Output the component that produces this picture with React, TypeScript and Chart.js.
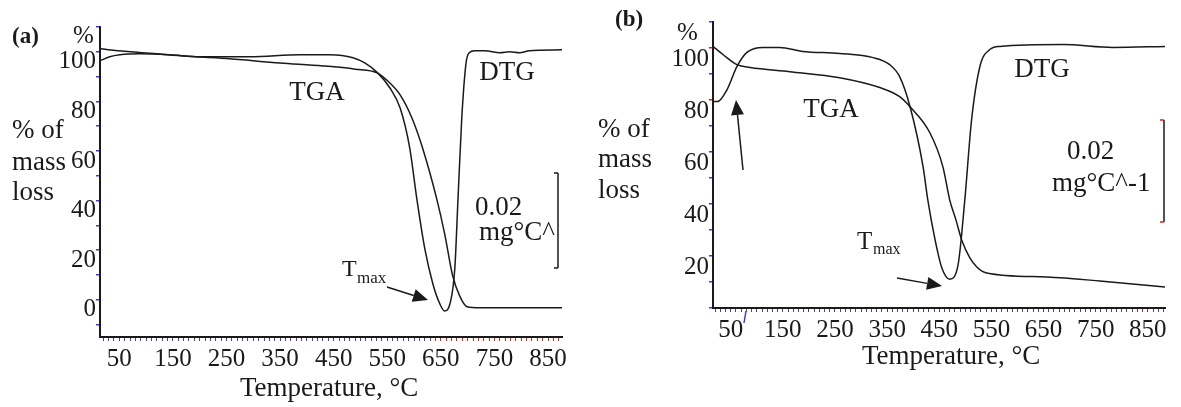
import { useEffect, useRef } from 'react';
import { Chart, registerables } from 'chart.js';

Chart.register(...registerables);

// ---------- data ----------
// Panel (a)
const tgaA_T = [14, 60, 107, 150, 250, 350, 430, 490, 531, 555, 574, 596, 616, 642, 657, 672, 685, 699, 723, 876];
const tgaA_V = [101.2, 100.2, 99.4, 98.6, 97.3, 95.5, 94.3, 93.0, 91.5, 87.4, 82.6, 73.3, 61.1, 40.9, 26.7, 9.7, 1.6, -2.8, -3.2, -3.2];
const dtgA_T = [14, 32, 51, 88, 144, 200, 294, 387, 443, 486, 508, 532, 555, 574, 592, 605, 620, 635, 648, 657, 667, 676, 682, 689, 697, 703, 713, 732, 760, 778, 797, 815, 876];
const dtgA_V = [96.4, 98, 98.8, 99.2, 98.8, 98, 98, 98.8, 98.8, 97.6, 95.5, 91.5, 85.4, 77.3, 61.1, 40.9, 20.6, 6.5, -1.6, -4.5, -1.6, 12.6, 40.9, 73.3, 95.5, 99.6, 100.4, 100.4, 99.6, 100, 99.6, 100.4, 100.8];

// Panel (b)
const tgaB_T = [16, 35, 62, 87, 163, 259, 336, 374, 394, 432, 457, 470, 482, 493, 509, 522, 541, 656, 758, 883];
const tgaB_V = [100.6, 97.5, 93.6, 92.5, 90.9, 88.6, 84.8, 81.3, 77.4, 67.4, 54.3, 41.6, 33.9, 26.2, 19.2, 15.8, 13.5, 11.9, 10.4, 8.1];
const dtgB_T = [16, 25, 43, 62, 81, 112, 144, 188, 259, 323, 355, 374, 394, 419, 428, 442, 455, 470, 486, 499, 512, 528, 547, 566, 687, 783, 883];
const dtgB_V = [79.4, 79.4, 84, 92.9, 98.3, 100.2, 100.2, 98.7, 97.9, 96.3, 93.6, 89, 77.4, 54.3, 41.6, 26.2, 15.4, 11.1, 16.5, 41.6, 72.4, 92.9, 99.4, 100.6, 101.3, 100.2, 100.6];

// tick labels
const xTickLabels = [50, 150, 250, 350, 450, 550, 650, 750, 850];
const yTickLabels = [0, 20, 40, 60, 80, 100];

const SERIF = "'Liberation Serif', 'Times New Roman', serif";

type Txt = { t: string; x: number; y: number; size: number; bold?: boolean; align?: CanvasTextAlign };
type Arrow = { x1: number; y1: number; x2: number; y2: number };

interface PanelSpec {
  left: number;
  width: number;
  areaLeft: number;
  areaRight: number;
  areaTop: number;
  areaBottom: number;
  xMin: number;
  xMax: number;
  yMin: number;
  yMax: number;
  yLabelOffset: number;
  tgaT: number[];
  tgaV: number[];
  dtgT: number[];
  dtgV: number[];
  xTickColor: (v: number) => string;
  yTickColor: (v: number) => string;
  texts: Txt[];
  arrows: Arrow[];
  bracket: { x: number; y1: number; y2: number; color: string };
  extraLines: { x1: number; y1: number; x2: number; y2: number; color: string }[];
}

const H = 407;

function zip(t: number[], v: number[]) {
  return t.map((x, i) => ({ x, y: v[i] }));
}

function drawArrow(ctx: CanvasRenderingContext2D, a: Arrow) {
  const ang = Math.atan2(a.y2 - a.y1, a.x2 - a.x1);
  const L = 15;
  const W = 6.5;
  const bx = a.x2 - L * Math.cos(ang);
  const by = a.y2 - L * Math.sin(ang);
  ctx.beginPath();
  ctx.moveTo(a.x1, a.y1);
  ctx.lineTo(bx, by);
  ctx.stroke();
  ctx.beginPath();
  ctx.moveTo(a.x2, a.y2);
  ctx.lineTo(bx + W * Math.sin(ang), by - W * Math.cos(ang));
  ctx.lineTo(bx - W * Math.sin(ang), by + W * Math.cos(ang));
  ctx.closePath();
  ctx.fill();
}

function Panel({ spec }: { spec: PanelSpec }) {
  const ref = useRef<HTMLCanvasElement>(null);
  useEffect(() => {
    if (!ref.current) return;
    const s = spec;
    const off = s.left;
    const xTicks: number[] = [];
    for (let v = Math.ceil(s.xMin / 10) * 10; v <= s.xMax; v += 10) xTicks.push(v);
    const yTicks: number[] = [];
    for (let v = Math.ceil(s.yMin / 10) * 10; v <= s.yMax + 0.01; v += 10) yTicks.push(v);

    const annot = {
      id: 'annot',
      afterDraw(chart: any) {
        const ctx: CanvasRenderingContext2D = chart.ctx;
        ctx.save();
        ctx.fillStyle = '#1a1a1a';
        ctx.strokeStyle = '#1a1a1a';
        ctx.textBaseline = 'middle';
        for (const t of s.texts) {
          ctx.font = `${t.bold ? 'bold ' : ''}${t.size}px ${SERIF}`;
          ctx.textAlign = t.align || 'left';
          ctx.fillText(t.t, t.x - off, t.y);
        }
        ctx.lineWidth = 1.5;
        for (const a of s.arrows) {
          drawArrow(ctx, { x1: a.x1 - off, y1: a.y1, x2: a.x2 - off, y2: a.y2 });
        }
        // bracket
        const b = s.bracket;
        ctx.lineWidth = 1.5;
        ctx.beginPath();
        ctx.moveTo(b.x - off, b.y1);
        ctx.lineTo(b.x - off, b.y2);
        ctx.stroke();
        ctx.strokeStyle = b.color;
        ctx.beginPath();
        ctx.moveTo(b.x - off - 4, b.y1);
        ctx.lineTo(b.x - off, b.y1);
        ctx.moveTo(b.x - off - 4, b.y2);
        ctx.lineTo(b.x - off, b.y2);
        ctx.stroke();
        for (const l of s.extraLines) {
          ctx.strokeStyle = l.color;
          ctx.beginPath();
          ctx.moveTo(l.x1 - off, l.y1);
          ctx.lineTo(l.x2 - off, l.y2);
          ctx.stroke();
        }
        ctx.restore();
      },
    };

    const chart = new Chart(ref.current, {
      type: 'line',
      data: {
        datasets: [
          {
            label: 'TGA',
            data: zip(s.tgaT, s.tgaV),
            borderColor: '#1a1a1a',
            borderWidth: 1.5,
            pointRadius: 0,
            cubicInterpolationMode: 'monotone',
            fill: false,
          },
          {
            label: 'DTG',
            data: zip(s.dtgT, s.dtgV),
            borderColor: '#1a1a1a',
            borderWidth: 1.5,
            pointRadius: 0,
            cubicInterpolationMode: 'monotone',
            fill: false,
          },
        ],
      },
      options: {
        responsive: false,
        animation: false,
        events: [],
        layout: {
          padding: { left: 0, top: s.areaTop, right: s.width - (s.areaRight - s.left), bottom: 0 },
        },
        plugins: { legend: { display: false }, tooltip: { enabled: false }, title: { display: false } },
        scales: {
          x: {
            type: 'linear',
            min: s.xMin,
            max: s.xMax,
            afterFit: (sc: any) => {
              sc.height = H - s.areaBottom;
            },
            afterBuildTicks: (sc: any) => {
              sc.ticks = xTicks.map((v) => ({ value: v }));
            },
            ticks: {
              autoSkip: false,
              maxRotation: 0,
              minRotation: 0,
              padding: 3,
              color: '#1a1a1a',
              font: { family: SERIF, size: 25 },
              callback: (v: any) => (xTickLabels.includes(Number(v)) ? String(v) : ''),
            },
            grid: {
              drawOnChartArea: false,
              drawTicks: true,
              tickLength: 4,
              lineWidth: 1,
              color: (c: any) => s.xTickColor(c.tick ? c.tick.value : 0),
            },
            border: { display: true, color: '#1a1a1a', width: 2 },
          },
          y: {
            type: 'linear',
            min: s.yMin,
            max: s.yMax,
            afterFit: (sc: any) => {
              sc.width = s.areaLeft - s.left;
            },
            afterBuildTicks: (sc: any) => {
              sc.ticks = yTicks.map((v) => ({ value: v }));
            },
            ticks: {
              autoSkip: false,
              padding: 0,
              labelOffset: s.yLabelOffset,
              color: '#1a1a1a',
              font: { family: SERIF, size: 25 },
              callback: (v: any) => {
                const n = Math.round(Number(v));
                return yTickLabels.includes(n) && n > s.yMin ? String(n) : '';
              },
            },
            grid: {
              drawOnChartArea: false,
              drawTicks: true,
              tickLength: 4,
              lineWidth: 1.5,
              color: (c: any) => s.yTickColor(c.tick ? Math.round(c.tick.value) : 0),
            },
            border: { display: true, color: '#1a1a1a', width: 2 },
          },
        },
      },
      plugins: [annot],
    } as any);
    return () => chart.destroy();
  }, [spec]);
  return (
    <canvas
      ref={ref}
      width={spec.width}
      height={H}
      style={{ position: 'absolute', left: spec.left, top: 0, width: spec.width, height: H }}
    />
  );
}

const BLUE = '#3a3fd0';
const PURPLE = '#5a3a9a';
const RED = '#e02020';

const specA: PanelSpec = {
  left: 0,
  width: 585,
  areaLeft: 100,
  areaRight: 562,
  areaTop: 27,
  areaBottom: 337,
  xMin: 14,
  xMax: 876,
  yMin: -15,
  yMax: 110,
  yLabelOffset: 10,
  tgaT: tgaA_T,
  tgaV: tgaA_V,
  dtgT: dtgA_T,
  dtgV: dtgA_V,
  xTickColor: (v) => (v >= 640 ? RED : v % 50 === 0 ? BLUE : PURPLE),
  yTickColor: () => BLUE,
  texts: [
    { t: '(a)', x: 12, y: 37, size: 23, bold: true },
    { t: '%', x: 73, y: 36, size: 25 },
    { t: '% of', x: 12, y: 131, size: 27 },
    { t: 'mass', x: 12, y: 163, size: 27 },
    { t: 'loss', x: 12, y: 193, size: 27 },
    { t: 'TGA', x: 317, y: 93, size: 27, align: 'center' },
    { t: 'DTG', x: 507, y: 73, size: 27, align: 'center' },
    { t: '0.02', x: 475, y: 208, size: 27 },
    { t: 'mg°C^', x: 479, y: 233, size: 27 },
    { t: 'T', x: 342, y: 270, size: 24 },
    { t: 'max', x: 357, y: 279, size: 17 },
    { t: 'Temperature, °C', x: 240, y: 389, size: 27 },
  ],
  arrows: [{ x1: 387, y1: 287, x2: 428, y2: 300 }],
  bracket: { x: 558, y1: 173, y2: 268, color: '#1a1a1a' },
  extraLines: [],
};

const specB: PanelSpec = {
  left: 590,
  width: 591,
  areaLeft: 713,
  areaRight: 1165,
  areaTop: 22,
  areaBottom: 308,
  xMin: 16,
  xMax: 883,
  yMin: 0,
  yMax: 110,
  yLabelOffset: 11,
  tgaT: tgaB_T,
  tgaV: tgaB_V,
  dtgT: dtgB_T,
  dtgV: dtgB_V,
  xTickColor: (v) => (v === 830 ? RED : v % 50 === 0 ? BLUE : PURPLE),
  yTickColor: (v) => (v === 100 || v === 80 ? RED : BLUE),
  texts: [
    { t: '(b)', x: 615, y: 20, size: 23, bold: true },
    { t: '%', x: 677, y: 33, size: 25 },
    { t: '% of', x: 598, y: 130, size: 27 },
    { t: 'mass', x: 598, y: 160, size: 27 },
    { t: 'loss', x: 598, y: 191, size: 27 },
    { t: 'TGA', x: 831, y: 110, size: 27, align: 'center' },
    { t: 'DTG', x: 1042, y: 70, size: 27, align: 'center' },
    { t: '0.02', x: 1067, y: 152, size: 27 },
    { t: 'mg°C^-1', x: 1052, y: 184, size: 27 },
    { t: 'T', x: 857, y: 242, size: 25 },
    { t: 'max', x: 873, y: 250, size: 16 },
    { t: 'Temperature, °C', x: 862, y: 357, size: 27 },
  ],
  arrows: [
    { x1: 897, y1: 278, x2: 942, y2: 286 },
    { x1: 743, y1: 170, x2: 736, y2: 100 },
  ],
  bracket: { x: 1164, y1: 120, y2: 222, color: RED },
  extraLines: [{ x1: 746, y1: 311, x2: 744, y2: 323, color: BLUE }],
};

export default function App() {
  return (
    <div style={{ position: 'absolute', left: 0, top: 0, width: 1181, height: H, background: '#fff' }}>
      <Panel spec={specA} />
      <Panel spec={specB} />
    </div>
  );
}
